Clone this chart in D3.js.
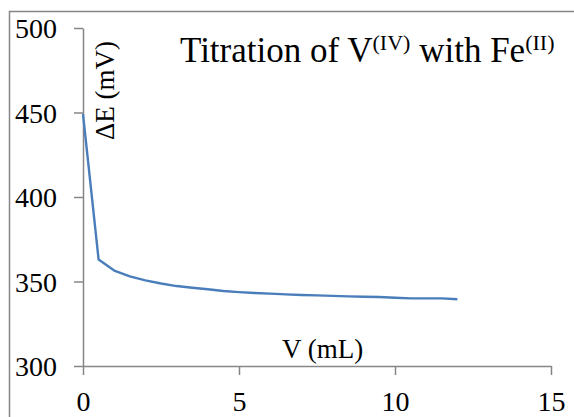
<!DOCTYPE html>
<html>
<head>
<meta charset="utf-8">
<script src="https://cdn.jsdelivr.net/npm/d3@7"></script>
<style>
  html, body { margin: 0; padding: 0; background: #fff; }
  svg { display: block; }
  svg text { font-family: 'Liberation Serif' !important; }
</style>
</head>
<body>
<svg id="chart" width="574" height="417"></svg>
<script>
// Titrant volume (mL) and measured potential difference (mV)
const volume = [0, 0.5, 1, 1.5, 2, 2.5, 3, 3.5, 4, 4.5, 5, 5.5, 6, 6.5, 7, 7.5, 8, 8.5, 9, 9.5, 10, 10.5, 11, 11.5, 12];
const deltaE = [449, 363, 356.5, 353, 350.7, 348.8, 347.3, 346.3, 345.4, 344.4, 343.7, 343.2, 342.8, 342.4, 342.0, 341.8, 341.5, 341.2, 341.0, 340.8, 340.4, 340.0, 340.0, 340.0, 339.5];
const xTicks = [0, 5, 10, 15];
const yTicks = [300, 350, 400, 450, 500];

const FONT = "Liberation Serif";
const svg = d3.select("#chart");
const axisColor = "#868686";

// Outer chart frame (extends past the right and bottom edges)
svg.append("rect")
  .attr("x", 9.5).attr("y", 11.5)
  .attr("width", 700).attr("height", 700)
  .attr("fill", "none")
  .attr("stroke", axisColor)
  .attr("stroke-width", 1.5);

const plotLeft = 83, plotRight = 551, plotTop = 28, plotBottom = 366;
const x = d3.scaleLinear().domain([0, 15]).range([plotLeft, plotRight]);
const y = d3.scaleLinear().domain([300, 500]).range([plotBottom, plotTop]);

// X axis
const gx = svg.append("g")
  .attr("transform", `translate(0,${plotBottom})`)
  .call(d3.axisBottom(x).tickValues(xTicks).tickSize(9).tickPadding(16).tickSizeOuter(0));
// Y axis
const gy = svg.append("g")
  .attr("transform", `translate(${plotLeft},0)`)
  .call(d3.axisLeft(y).tickValues(yTicks).tickSize(9).tickPadding(17).tickSizeOuter(0));

[gx, gy].forEach(g => {
  g.attr("font-family", FONT).attr("font-size", 28);
  g.select(".domain").attr("stroke", axisColor).attr("stroke-width", 1.5);
  g.selectAll(".tick line").attr("stroke", axisColor).attr("stroke-width", 1.5);
  g.selectAll(".tick text").attr("fill", "#000").style("font-family", FONT).style("font-size", "28px");
});
gx.selectAll(".tick text").attr("dy", "0.71em");
gy.selectAll(".tick text").attr("dy", "0.34em");

// Titration curve
const pts = volume.map((v, i) => [v, deltaE[i]]);
svg.append("path")
  .datum(pts)
  .attr("fill", "none")
  .attr("stroke", "#4A7EBB")
  .attr("stroke-width", 2.4)
  .attr("stroke-linejoin", "round")
  .attr("d", d3.line().x(d => x(d[0])).y(d => y(d[1])));

// Axis titles
svg.append("text")
  .attr("x", 282).attr("y", 358)
  .style("font-family", FONT).style("font-size", "27px")
  .text("V (mL)");

svg.append("text")
  .attr("transform", "translate(114,140) rotate(-90)")
  .style("font-family", FONT).style("font-size", "27px")
  .text("ΔE (mV)");

// Chart title with superscript oxidation states
const title = svg.append("text")
  .attr("x", 180).attr("y", 62)
  .style("font-family", FONT).style("font-size", "35px");
title.append("tspan").text("Titration of V");
title.append("tspan").attr("dy", -12).style("font-size", "22px").text("(IV)");
title.append("tspan").attr("dy", 12).text(" with Fe");
title.append("tspan").attr("dy", -12).style("font-size", "22px").text("(II)");
</script>
</body>
</html>
